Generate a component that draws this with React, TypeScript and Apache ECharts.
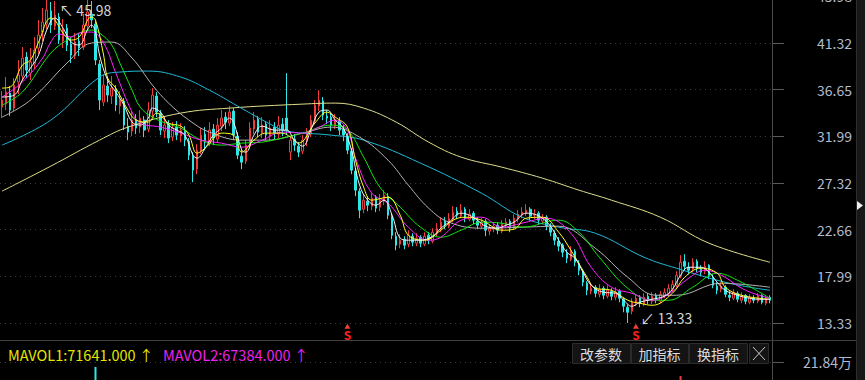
import React, { useEffect, useRef } from 'react';
import * as echarts from 'echarts';

// [open, close, lowest, highest]
const ohlc: number[][] = [
  [34.9, 35.6, 33.8, 36.5], [35.2, 36.4, 34.6, 37.9], [36.3, 34.6, 34.0, 37.0], [34.8, 37.1, 34.5, 37.8],
  [37.4, 38.1, 36.2, 39.6], [38.0, 39.8, 37.5, 40.9], [39.9, 38.6, 37.8, 40.4], [38.3, 39.4, 37.6, 40.8],
  [39.2, 40.6, 38.7, 41.9], [40.8, 42.1, 40.2, 43.6], [42.4, 43.4, 41.5, 44.8], [43.2, 44.6, 42.7, 45.98],
  [44.5, 43.1, 42.3, 45.4], [43.0, 44.1, 42.6, 45.5], [43.9, 41.6, 41.2, 44.3], [41.5, 42.6, 40.8, 43.7],
  [42.8, 41.1, 40.5, 43.2], [41.2, 40.1, 39.3, 41.9], [40.0, 41.4, 39.7, 42.3], [41.5, 40.8, 40.0, 42.2],
  [40.9, 43.1, 40.6, 44.2], [43.0, 44.4, 42.6, 45.6], [44.2, 43.6, 42.8, 45.5], [43.2, 39.6, 39.1, 43.5],
  [39.2, 35.6, 34.6, 39.6], [35.4, 37.1, 35.0, 38.2], [37.0, 36.1, 35.4, 37.8], [36.0, 36.8, 35.2, 38.0],
  [36.7, 35.1, 34.5, 37.1], [35.0, 35.6, 34.2, 36.5], [35.5, 33.1, 32.6, 35.8], [33.0, 32.4, 31.6, 33.8],
  [32.5, 33.6, 32.0, 34.5], [33.7, 32.8, 32.2, 34.2], [32.9, 33.8, 32.3, 34.6], [33.6, 32.6, 31.9, 34.0],
  [32.7, 34.6, 32.4, 35.4], [34.5, 36.1, 34.0, 36.8], [36.0, 34.4, 33.9, 36.4], [34.3, 32.6, 32.1, 34.6],
  [32.5, 33.1, 31.8, 33.9], [33.2, 31.8, 31.3, 33.6], [31.9, 32.8, 31.5, 33.4], [32.9, 32.1, 31.6, 33.5],
  [32.0, 32.6, 31.4, 33.3], [32.5, 31.6, 31.0, 33.0], [31.5, 30.1, 29.6, 31.8], [30.0, 28.6, 27.4, 30.4],
  [28.7, 30.6, 28.2, 31.2], [30.5, 32.1, 30.2, 32.8], [32.2, 31.4, 30.6, 32.9], [31.3, 32.6, 31.0, 33.4],
  [32.7, 31.8, 31.1, 33.2], [31.7, 33.1, 31.4, 33.8], [33.0, 33.8, 32.5, 34.6], [33.9, 33.4, 32.7, 34.4],
  [33.3, 34.4, 33.0, 35.0], [34.5, 32.1, 31.6, 34.8], [32.0, 30.1, 29.7, 32.4], [30.0, 29.4, 28.7, 30.6],
  [29.5, 31.1, 29.2, 31.6], [31.0, 32.8, 30.7, 33.4], [32.7, 33.6, 32.2, 34.4], [33.7, 32.4, 31.9, 34.0],
  [32.3, 33.1, 31.8, 33.9], [33.2, 32.1, 31.6, 33.5], [32.0, 32.8, 31.5, 33.6], [32.9, 32.3, 31.7, 33.4],
  [32.2, 33.1, 31.8, 34.0], [33.2, 32.6, 32.0, 33.8], [33.8, 32.6, 32.1, 38.3], [30.4, 31.6, 29.6, 32.0],
  [31.7, 31.1, 30.5, 32.2], [31.0, 30.4, 29.9, 31.4], [30.5, 31.6, 30.2, 32.1], [31.5, 32.1, 31.0, 32.8],
  [32.2, 33.6, 31.9, 34.1], [33.5, 35.1, 33.2, 35.6], [35.0, 35.6, 34.5, 36.6], [35.5, 34.1, 33.6, 35.9],
  [34.0, 33.8, 33.2, 34.6], [33.9, 33.1, 32.5, 34.3], [33.0, 33.6, 32.7, 34.2], [33.5, 32.6, 32.1, 33.9],
  [32.7, 32.1, 31.5, 33.1], [32.0, 30.6, 30.2, 32.3], [30.5, 28.6, 28.2, 30.8], [28.5, 26.6, 26.0, 28.8],
  [26.5, 24.6, 23.8, 26.8], [24.7, 25.6, 24.3, 26.2], [25.5, 25.1, 24.5, 26.0], [25.0, 25.8, 24.6, 26.3],
  [25.9, 24.8, 24.4, 26.1], [24.9, 25.6, 24.5, 26.2], [25.5, 26.1, 25.1, 26.6], [26.0, 24.1, 23.7, 26.3],
  [24.0, 22.1, 21.7, 24.3], [22.0, 21.1, 20.6, 22.4], [21.2, 21.6, 20.8, 22.2], [21.7, 21.1, 20.7, 22.0],
  [21.2, 22.1, 20.9, 22.6], [22.0, 21.4, 21.0, 22.3], [21.3, 21.8, 21.0, 22.3], [21.9, 21.3, 20.9, 22.1],
  [21.2, 22.0, 21.0, 22.4], [22.1, 21.6, 21.2, 22.4], [21.5, 22.4, 21.3, 22.8], [22.3, 22.8, 22.0, 23.3],
  [22.7, 23.4, 22.4, 23.9], [23.5, 23.1, 22.7, 23.9], [23.0, 23.8, 22.8, 24.3], [23.7, 24.4, 23.4, 25.0],
  [24.5, 24.1, 23.7, 24.9], [24.0, 24.6, 23.8, 25.2], [24.7, 23.8, 23.4, 24.9], [23.7, 24.2, 23.5, 24.7],
  [24.3, 23.6, 23.2, 24.5], [23.5, 23.1, 22.7, 23.9], [23.0, 23.4, 22.7, 23.8], [23.5, 22.6, 22.0, 23.7],
  [22.5, 22.8, 22.1, 23.2], [22.7, 23.0, 22.4, 23.4], [23.1, 22.6, 22.2, 23.4], [22.5, 23.2, 22.3, 23.6],
  [23.1, 23.4, 22.8, 23.8], [23.5, 22.8, 22.4, 23.7], [22.9, 23.8, 22.7, 24.2], [23.7, 24.2, 23.4, 24.6],
  [24.1, 24.4, 23.8, 24.9], [24.3, 24.6, 24.0, 25.2], [24.7, 24.0, 23.6, 24.9], [24.1, 24.2, 23.7, 24.7],
  [24.3, 23.6, 23.2, 24.5], [23.5, 23.8, 23.2, 24.2], [23.9, 23.0, 22.6, 24.1], [22.9, 22.4, 22.0, 23.3],
  [22.3, 21.6, 21.1, 22.6], [21.5, 21.0, 20.5, 21.9], [21.1, 20.4, 19.9, 21.3], [20.3, 19.8, 19.3, 20.7],
  [19.7, 20.6, 19.5, 21.0], [20.5, 19.4, 19.0, 20.7], [19.3, 18.6, 18.1, 19.6], [18.5, 17.4, 17.0, 18.7],
  [17.3, 16.6, 16.1, 17.5], [16.5, 16.8, 16.2, 17.3], [16.9, 16.3, 15.9, 17.1], [16.2, 16.7, 15.9, 17.2],
  [16.8, 16.1, 15.7, 17.0], [16.0, 16.6, 15.8, 17.1], [16.5, 16.0, 15.6, 16.8], [15.9, 16.4, 15.6, 16.9],
  [16.5, 15.8, 15.4, 16.7], [15.7, 15.0, 14.4, 15.9], [14.9, 14.4, 13.33, 15.2], [14.5, 15.4, 14.2, 15.8],
  [15.3, 15.8, 15.0, 16.2], [15.9, 15.3, 14.9, 16.1], [15.2, 15.9, 15.0, 16.3], [16.0, 15.6, 15.2, 16.3],
  [15.5, 16.0, 15.2, 16.4], [16.1, 15.6, 15.3, 16.3], [15.5, 16.2, 15.3, 16.5], [16.1, 16.4, 15.8, 16.8],
  [16.3, 16.8, 16.0, 17.2], [16.7, 17.2, 16.5, 17.6], [17.1, 18.1, 16.9, 18.5], [18.0, 19.4, 17.8, 20.1],
  [19.5, 19.0, 18.6, 20.2], [18.9, 18.6, 18.2, 19.4], [18.7, 19.4, 18.4, 19.8], [19.5, 18.8, 18.4, 19.7],
  [18.7, 18.4, 18.0, 19.1], [18.5, 19.0, 18.2, 19.5], [19.1, 18.0, 17.7, 19.2], [17.9, 17.1, 16.8, 18.2],
  [17.0, 16.6, 16.2, 17.4], [16.7, 17.0, 16.4, 17.4], [16.9, 16.2, 15.9, 17.1], [16.1, 15.9, 15.5, 16.5],
  [15.8, 16.4, 15.6, 16.7], [16.3, 15.7, 15.4, 16.5], [15.6, 16.0, 15.3, 16.4], [16.1, 15.5, 15.2, 16.2],
  [15.4, 15.9, 15.2, 16.2], [15.8, 15.6, 15.3, 16.1], [15.5, 16.0, 15.3, 16.3], [16.1, 15.4, 15.2, 16.2],
  [15.3, 15.8, 15.1, 16.0], [15.9, 15.6, 15.3, 16.1],
];

// volume in 万
const volumes: number[] = [
  9, 11, 8, 12, 10, 13, 9, 10, 12, 14, 13, 15, 11, 12, 10, 9, 8, 9, 10, 8,
  12, 14, 11, 20.5, 15, 9, 8, 7, 9, 8, 10, 8, 7, 8, 7, 6, 9, 11, 8, 7,
  6, 7, 6, 5, 6, 7, 8, 10, 9, 8, 6, 7, 6, 8, 9, 7, 10, 8, 9, 7,
  8, 9, 10, 7, 6, 7, 6, 5, 7, 6, 15, 9, 7, 6, 8, 9, 11, 13, 12, 8,
  7, 6, 7, 6, 7, 9, 11, 12, 10, 7, 6, 7, 6, 7, 8, 9, 11, 9, 6, 5,
  6, 5, 5, 4, 5, 5, 6, 7, 8, 6, 7, 8, 6, 9, 7, 6, 5, 5, 6, 5,
  5, 4, 5, 5, 6, 5, 7, 8, 7, 8, 6, 5, 5, 6, 7, 8, 9, 8, 7, 8,
  9, 8, 7, 9, 8, 6, 5, 6, 5, 6, 5, 6, 5, 7, 9, 8, 6, 5, 6, 5,
  5, 4, 6, 7, 8, 10, 14, 18.0, 12, 9, 10, 8, 7, 8, 9, 8, 7, 6, 7, 6,
  6, 5, 6, 5, 6, 5, 7, 6, 7, 7,
];

// moving averages, [candle index, value]
const ma5: number[][] = [
  [0, 35.9], [3, 36.1], [5, 37.6], [7, 38.8], [9, 40.1], [11, 42.6], [13, 43.8], [15, 42.8], [17, 41.4],
  [19, 41.1], [21, 42.6], [22, 43.1], [23, 42.4], [24, 40.1], [26, 37.6], [28, 36.4], [30, 35.1], [32, 33.4],
  [34, 33.1], [36, 33.8], [37, 34.8], [39, 34.4], [41, 33.1], [43, 32.6], [45, 32.1], [47, 30.1], [48, 29.8],
  [50, 30.8], [52, 32.1], [54, 32.8], [56, 33.8], [57, 33.4], [59, 30.6], [60, 30.4], [62, 32.1], [64, 33.0],
  [67, 32.6], [70, 32.6], [72, 31.6], [74, 31.0], [76, 32.6], [78, 34.4], [80, 34.6], [82, 33.6], [84, 32.8],
  [86, 30.6], [88, 27.1], [90, 25.6], [92, 25.1], [94, 25.6], [96, 24.1], [98, 21.8], [100, 21.6], [103, 21.6],
  [106, 22.0], [108, 22.8], [110, 23.4], [113, 24.3], [115, 24.1], [117, 23.6], [119, 23.0], [122, 22.8],
  [124, 23.1], [126, 23.4], [129, 24.3], [131, 24.2], [133, 23.8], [135, 23.0], [137, 21.6], [139, 20.4],
  [141, 19.8], [143, 18.4], [145, 17.1], [148, 16.4], [151, 16.3], [153, 15.6], [155, 15.0], [157, 15.4],
  [160, 15.7], [163, 16.0], [165, 16.7], [167, 18.1], [169, 18.9], [172, 18.9], [174, 18.4], [176, 17.4],
  [178, 16.6], [181, 16.1], [184, 15.8], [187, 15.7], [189, 15.7],
];
const ma10: number[][] = [
  [0, 36.8], [2, 36.9], [5, 39.1], [7, 39.6], [9, 41.4], [12, 43.8], [13, 43.6], [15, 42.3], [17, 41.6],
  [19, 41.9], [22, 43.9], [23, 43.6], [25, 40.1], [26, 37.8], [28, 36.8], [31, 34.6], [33, 33.6], [36, 33.4],
  [38, 34.3], [41, 33.3], [44, 33.0], [46, 32.1], [48, 30.3], [50, 30.8], [54, 32.3], [57, 32.1], [59, 30.4],
  [62, 31.6], [65, 32.3], [69, 32.3], [71, 31.9], [73, 31.3], [77, 33.3], [80, 34.4], [82, 33.9], [85, 32.9],
  [87, 29.6], [89, 26.9], [91, 25.6], [95, 25.9], [98, 24.1], [100, 22.1], [104, 21.6], [108, 22.6],
  [111, 23.6], [114, 23.9], [118, 23.6], [123, 22.6], [126, 22.7], [129, 23.8], [133, 23.9], [137, 22.4],
  [140, 20.6], [144, 17.9], [146, 16.8], [150, 16.6], [154, 15.6], [157, 15.3], [160, 15.1], [165, 16.3],
  [168, 17.9], [172, 18.8], [176, 18.3], [178, 16.9], [182, 16.1], [189, 15.7],
];
const ma20: number[][] = [
  [0, 35.9], [5, 37.4], [10, 39.8], [12, 41.4], [14, 42.2], [17, 41.9], [19, 42.3], [22, 42.4], [25, 41.3],
  [28, 38.3], [32, 34.4], [34, 33.3], [39, 32.9], [44, 32.3], [49, 31.6], [54, 31.3], [59, 30.9], [64, 31.6],
  [69, 32.4], [74, 32.3], [78, 32.9], [82, 33.6], [85, 32.6], [87, 29.8], [91, 26.3], [95, 25.3], [100, 22.9],
  [105, 21.6], [108, 21.9], [113, 23.6], [118, 23.9], [123, 22.9], [128, 23.3], [134, 23.8], [140, 22.3],
  [145, 18.9], [150, 16.9], [155, 16.3], [160, 15.6], [164, 16.2], [169, 17.8], [173, 18.6], [177, 18.1],
  [183, 16.6], [189, 15.8],
];
const ma30: number[][] = [
  [0, 35.1], [5, 36.4], [12, 40.3], [16, 41.6], [19, 42.3], [22, 42.6], [24, 42.3], [27, 41.1], [29, 39.3],
  [32, 36.6], [34, 34.9], [37, 33.9], [41, 33.2], [44, 32.8], [49, 31.6], [54, 31.1], [59, 31.3], [64, 31.4],
  [70, 31.9], [74, 32.3], [81, 33.1], [85, 32.6], [89, 29.9], [93, 26.9], [98, 24.9], [103, 22.9], [108, 21.9],
  [113, 22.6], [118, 23.4], [123, 23.3], [128, 22.9], [137, 23.6], [142, 22.4], [147, 19.9], [154, 16.8],
  [160, 15.6], [164, 15.6], [170, 16.9], [176, 18.3], [181, 17.6], [189, 15.8],
];
const ma60: number[][] = [
  [0, 33.9], [7, 35.6], [16, 39.3], [22, 41.3], [27, 41.4], [32, 39.8], [37, 37.1], [41, 35.3], [46, 33.6],
  [51, 32.4], [59, 31.6], [65, 31.6], [74, 32.3], [81, 32.9], [88, 31.9], [95, 29.6], [100, 27.1], [105, 24.8],
  [110, 23.4], [118, 22.8], [128, 22.9], [137, 23.0], [146, 20.8], [154, 17.9], [161, 16.1], [166, 16.1],
  [177, 17.3], [189, 16.9],
];
const ma120: number[][] = [
  [0, 31.1], [12, 33.6], [24, 37.9], [29, 38.4], [36, 38.5], [44, 37.9], [51, 36.6], [58, 35.0], [66, 33.2],
  [70, 32.5], [81, 32.1], [89, 31.6], [103, 29.3], [118, 26.3], [128, 23.9], [137, 22.9], [146, 22.3],
  [158, 19.9], [166, 18.8], [179, 17.3], [189, 16.6],
];
const ma250: number[][] = [
  [0, 26.5], [12, 29.0], [24, 31.6], [31, 32.9], [44, 34.3], [56, 34.8], [74, 35.2], [82, 35.3], [89, 34.8],
  [97, 33.4], [105, 31.4], [113, 29.9], [123, 28.9], [133, 27.8], [142, 26.6], [150, 25.6], [162, 23.9],
  [174, 21.3], [189, 19.4],
];

const priceTicks = [13.33, 17.99, 22.66, 27.32, 31.99, 36.65, 41.32, 45.98];
const volTicks = [21.84];
const signalIdx = [85, 156];
const mavolLabels = ['MAVOL1:71641.000 ↑', 'MAVOL2:67384.000 ↑'];
const buttons = ['改参数', '加指标', '换指标'];

const RED = '#f03c3c';
const CYAN = '#2ee6e6';
const FONT = '"Noto Sans CJK SC", "Noto Sans", sans-serif';

export default function App() {
  const ref = useRef<HTMLDivElement>(null);
  useEffect(() => {
    document.body.style.margin = '0';
    document.body.style.background = '#000';
    const chart = echarts.init(ref.current!, null, { renderer: 'svg' });
    const cats = ohlc.map((_, i) => String(i));
    const maDefs = [
      { name: 'MA250', data: ma250, color: '#dede8c' },
      { name: 'MA120', data: ma120, color: '#22b8d8' },
      { name: 'MA60', data: ma60, color: '#b4b4b4' },
      { name: 'MA30', data: ma30, color: '#10e610' },
      { name: 'MA20', data: ma20, color: '#ff22ff' },
      { name: 'MA10', data: ma10, color: '#ffff20' },
      { name: 'MA5', data: ma5, color: '#f4f4f4' },
    ];
    const maSeries = maDefs.map((m) => ({
      type: 'line',
      name: m.name,
      data: m.data,
      xAxisIndex: 0,
      yAxisIndex: 0,
      showSymbol: false,
      smooth: 0.4,
      lineStyle: { color: m.color, width: 1 },
      itemStyle: { color: m.color },
      z: 3,
      silent: true,
    }));
    const volData = volumes.map((v, i) => {
      const up = ohlc[i] && ohlc[i][1] >= ohlc[i][0];
      return { value: v, itemStyle: { color: up ? RED : CYAN } };
    });

    const btnX = [572, 631, 689];
    const btnW = [58, 57, 58];
    const graphics: any[] = [
      { type: 'line', shape: { x1: 772.5, y1: 0, x2: 772.5, y2: 380 }, style: { stroke: '#4a4a4a', lineWidth: 1 }, z: 10 },
      { type: 'line', shape: { x1: 0, y1: 340.5, x2: 857, y2: 340.5 }, style: { stroke: '#3e3e3e', lineWidth: 1 }, z: 10 },
      { type: 'rect', shape: { x: 856, y: 0, width: 9, height: 380 }, style: { fill: '#181818' }, z: 10 },
      { type: 'line', shape: { x1: 856.5, y1: 0, x2: 856.5, y2: 380 }, style: { stroke: '#2e2e2e', lineWidth: 1 }, z: 10 },
      { type: 'polygon', shape: { points: [[857, 201], [863, 205.5], [857, 210]] }, style: { fill: '#eeeeee' }, z: 11 },
      { type: 'text', x: 8, y: 354, style: { text: mavolLabels[0], fill: '#e6e600', font: `14.5px ${FONT}`, verticalAlign: 'middle' }, z: 10 },
      { type: 'text', x: 163, y: 354, style: { text: mavolLabels[1], fill: '#ee22ee', font: `14.5px ${FONT}`, verticalAlign: 'middle' }, z: 10 },
    ];
    buttons.forEach((b, k) => {
      graphics.push({ type: 'rect', shape: { x: btnX[k] + 0.5, y: 343.5, width: btnW[k], height: 20 }, style: { fill: '#141414', stroke: '#2c2c2c', lineWidth: 1 }, z: 10 });
      graphics.push({ type: 'text', x: btnX[k] + btnW[k] / 2, y: 354, style: { text: b, fill: '#dcdcdc', font: `14px ${FONT}`, align: 'center', verticalAlign: 'middle' }, z: 11 });
    });
    graphics.push({ type: 'rect', shape: { x: 749.5, y: 343.5, width: 19, height: 20 }, style: { fill: '#141414', stroke: '#2c2c2c', lineWidth: 1 }, z: 10 });
    graphics.push({ type: 'line', shape: { x1: 753, y1: 347, x2: 765, y2: 360 }, style: { stroke: '#c8c8c8', lineWidth: 1 }, z: 11 });
    graphics.push({ type: 'line', shape: { x1: 765, y1: 347, x2: 753, y2: 360 }, style: { stroke: '#c8c8c8', lineWidth: 1 }, z: 11 });

    const option: any = {
      animation: false,
      backgroundColor: '#000',
      grid: [
        { left: 0, right: 93, top: -5, height: 345, outerBoundsMode: 'none', containLabel: false },
        { left: 0, right: 93, top: 362, height: 80, outerBoundsMode: 'none', containLabel: false },
      ],
      xAxis: [
        { type: 'category', data: cats, gridIndex: 0, boundaryGap: true, show: false },
        { type: 'category', data: cats, gridIndex: 1, boundaryGap: true, show: false },
      ],
      yAxis: [
        {
          type: 'value', gridIndex: 0, position: 'right', min: 11.63, max: 46.1,
          axisLine: { show: false },
          axisTick: { show: true, inside: false, length: 12, customValues: priceTicks, lineStyle: { color: '#5a5a5a' } },
          axisLabel: { customValues: priceTicks, formatter: (v: number) => v.toFixed(2), color: '#b2bacb', fontSize: 14, fontFamily: FONT, align: 'right', margin: 80 },
          splitLine: { show: true, lineStyle: { color: '#3a3a3a', type: [1, 4] } },
        },
        {
          type: 'value', gridIndex: 1, position: 'right', min: 0, max: 21.84,
          axisLine: { show: false },
          axisTick: { show: true, inside: false, length: 12, customValues: volTicks, lineStyle: { color: '#5a5a5a' } },
          axisLabel: { customValues: volTicks, formatter: (v: number) => v.toFixed(2) + '万', color: '#b2bacb', fontSize: 14, fontFamily: FONT, align: 'right', margin: 80 },
          splitLine: { show: true, lineStyle: { color: '#3a3a3a', type: [1, 4] } },
        },
      ],
      series: [
        {
          type: 'candlestick',
          data: ohlc,
          xAxisIndex: 0,
          yAxisIndex: 0,
          barMaxWidth: 3,
          itemStyle: { color: '#000', color0: CYAN, borderColor: RED, borderColor0: CYAN, borderWidth: 1 },
          z: 2,
          markPoint: {
            silent: true,
            data: [
              {
                type: 'max', valueDim: 'highest', symbol: 'circle', symbolSize: 1,
                itemStyle: { color: 'rgba(0,0,0,0)' },
                label: { show: true, position: 'right', distance: 0, offset: [12, 14], formatter: (p: any) => '↖ ' + Number(p.value).toFixed(2), color: '#d4d4d4', fontSize: 14, fontFamily: FONT },
              },
              {
                type: 'min', valueDim: 'lowest', symbol: 'circle', symbolSize: 1,
                itemStyle: { color: 'rgba(0,0,0,0)' },
                label: { show: true, position: 'right', distance: 0, offset: [12, -5], formatter: (p: any) => '↙ ' + Number(p.value).toFixed(2), color: '#d4d4d4', fontSize: 14, fontFamily: FONT },
              },
              ...signalIdx.map((i) => ({
                coord: [i, 13.0], symbol: 'triangle', symbolSize: [6, 5],
                itemStyle: { color: RED },
                label: { show: true, position: 'bottom', distance: 0, formatter: 'S', color: '#ff2020', fontWeight: 'bold', fontSize: 12, fontFamily: FONT },
              })),
            ],
          },
        },
        ...maSeries,
        {
          type: 'bar',
          data: volData,
          xAxisIndex: 1,
          yAxisIndex: 1,
          barMaxWidth: 2,
          silent: true,
        },
      ],
      graphic: graphics,
    };
    chart.setOption(option);
    return () => chart.dispose();
  }, []);
  return <div ref={ref} style={{ width: 865, height: 380, background: '#000' }} />;
}
